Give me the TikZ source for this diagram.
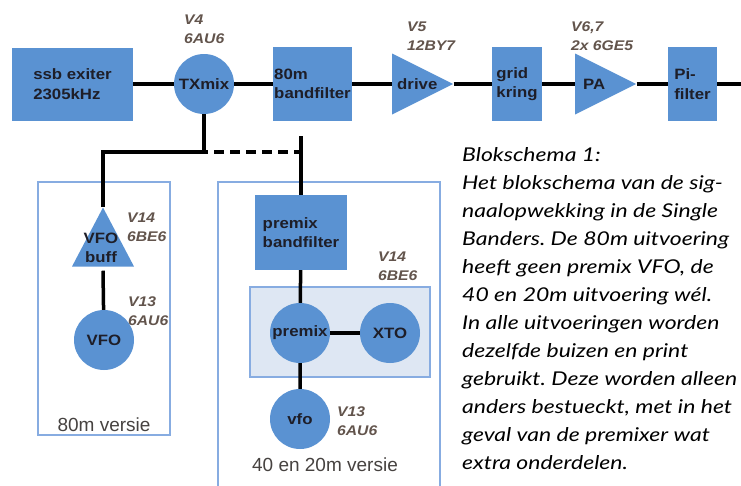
\documentclass[tikz,border=0pt]{standalone}
\usepackage{fontspec}
\setmainfont{Liberation Sans}
\newfontfamily\blokfont[FakeStretch=1.12]{Liberation Sans}
\newfontfamily\capfont[FakeStretch=1.21]{Lato}
\usepackage{tikz}
\usetikzlibrary{shapes.geometric,positioning,calc}
\definecolor{blokblauw}{RGB}{90,146,210}
\definecolor{kaderblauw}{RGB}{135,172,225}
\definecolor{groepgrijs}{RGB}{222,231,243}
\definecolor{tekst}{RGB}{30,30,40}
\definecolor{buiskleur}{RGB}{98,84,76}
\definecolor{versiekleur}{RGB}{70,66,64}
\frenchspacing

\begin{document}
\begin{tikzpicture}[
    x=1pt, y=-1pt,
    blok/.style={fill=blokblauw, inner sep=0pt, align=left, text=tekst,
        font=\blokfont\bfseries\fontsize{15}{19.5}\selectfont},
    rond/.style={circle, fill=blokblauw, inner sep=0pt, minimum size=60pt, text=tekst,
        font=\blokfont\bfseries\fontsize{15}{19.5}\selectfont},
    versterker/.style={isosceles triangle, isosceles triangle stretches, fill=blokblauw,
        inner sep=0pt, minimum width=61pt, minimum height=61pt},
    trilabel/.style={text=tekst, inner sep=0pt, align=center,
        font=\blokfont\bfseries\fontsize{15}{19.5}\selectfont},
    buis/.style={anchor=north west, inner sep=0pt, align=left, text=buiskleur,
        font=\blokfont\bfseries\itshape\fontsize{14}{18.5}\selectfont},
    kader/.style={draw=kaderblauw, line width=1.5pt},
    versie/.style={text=versiekleur, inner sep=0pt, font=\fontsize{19}{22}\selectfont},
    lijn/.style={line width=3.5pt, black}
]
    \useasboundingbox (0,0) rectangle (741,485);

    \draw[kader] (38,182) rectangle (170,435);
    \draw[kader] (218,495) -- (218,182) -- (440,182) -- (440,495);
    \filldraw[kader, fill=groepgrijs] (250,287) rectangle (430,377);

    \node[blok, minimum width=121pt, minimum height=73pt] (ssb) at (72.5,84) {ssb exiter\\2305kHz};
    \node[rond] (txmix) at (204,84) {TXmix};
    \node[blok, minimum width=79pt, minimum height=74pt] (bf80) at (312.5,84) {80m\\bandfilter};
    \node[versterker, anchor=west] (drive) at (392,84) {};
    \node[blok, minimum width=50pt, minimum height=74pt] (grid) at (517,84) {grid\\kring};
    \node[versterker, anchor=west] (pa) at (575,84) {};
    \node[blok, minimum width=49pt, minimum height=74pt] (pifilter) at (692.5,84) {Pi-\\filter};
    \coordinate (rechts) at (745,84);

    \node[trilabel, anchor=west] at ([xshift=5pt]drive.west) {drive};
    \node[trilabel, anchor=west] at ([xshift=8pt]pa.west) {PA};

    \node[versterker, shape border rotate=90, minimum width=62pt, minimum height=59pt,
        anchor=north] (buff) at (103,207) {};
    \node[trilabel] at (101,248) {VFO\\buff};
    \node[rond] (vfo80) at (104,340) {VFO};

    \node[blok, minimum width=92pt, minimum height=75pt] (premixbf) at (301,232.5) {premix\\bandfilter};
    \node[rond] (premix) at (300,333) {premix};
    \node[rond] (xto) at (390,333) {XTO};
    \node[rond] (vfo40) at (300,419) {vfo};

    \coordinate (splits) at (204,152);
    \coordinate (hoek) at (premixbf.north |- splits);

    \draw[lijn] (ssb) -- (txmix) -- (bf80);
    \draw[lijn] (bf80.east) -- (drive.west);
    \draw[lijn] (drive.east) -- (grid.west);
    \draw[lijn] (grid.east) -- (pa.west);
    \draw[lijn] (pa.east) -- (pifilter.west);
    \draw[lijn] (pifilter.east) -- (rechts);
    \draw[lijn] (txmix) -- (splits) -| (buff.north);
    \draw[lijn] ([yshift=-4pt]buff.south) -- (vfo80);
    \draw[lijn, dash pattern=on 10pt off 6pt, dash phase=-10pt] (splits) -- (hoek);
    \draw[lijn] ([yshift=16pt]hoek) -- (premixbf.north);
    \draw[lijn] (premixbf) -- (premix) -- (vfo40);
    \draw[lijn] (premix) -- (xto);

    \node[buis] at (184,15) {V4\\6AU6};
    \node[buis] at (407,22) {V5\\12BY7};
    \node[buis] at (571,22) {V6,7\\2x 6GE5};
    \node[buis] at (127,213) {V14\\6BE6};
    \node[buis] at (128,297) {V13\\6AU6};
    \node[buis] at (378,252) {V14\\6BE6};
    \node[buis] at (337,407) {V13\\6AU6};

    \node[versie] at (104,425) {80m versie};
    \node[versie] at (325,465) {40 en 20m versie};

    \node[anchor=north west, inner sep=0pt, align=left, text=black,
        font=\capfont\itshape\fontsize{19}{28}\selectfont] (bijschrift) at (462,147)
        {Blokschema 1:\\
        Het blokschema van de sig-\\
        naalopwekking in de Single\\
        Banders. De 80m uitvoering\\
        heeft geen premix VFO, de\\
        40 en 20m uitvoering wél.\\
        In alle uitvoeringen worden\\
        dezelfde buizen en print\\
        gebruikt. Deze worden alleen\\
        anders bestueckt, met in het\\
        geval van de premixer wat\\
        extra onderdelen.};
\end{tikzpicture}
\end{document}
